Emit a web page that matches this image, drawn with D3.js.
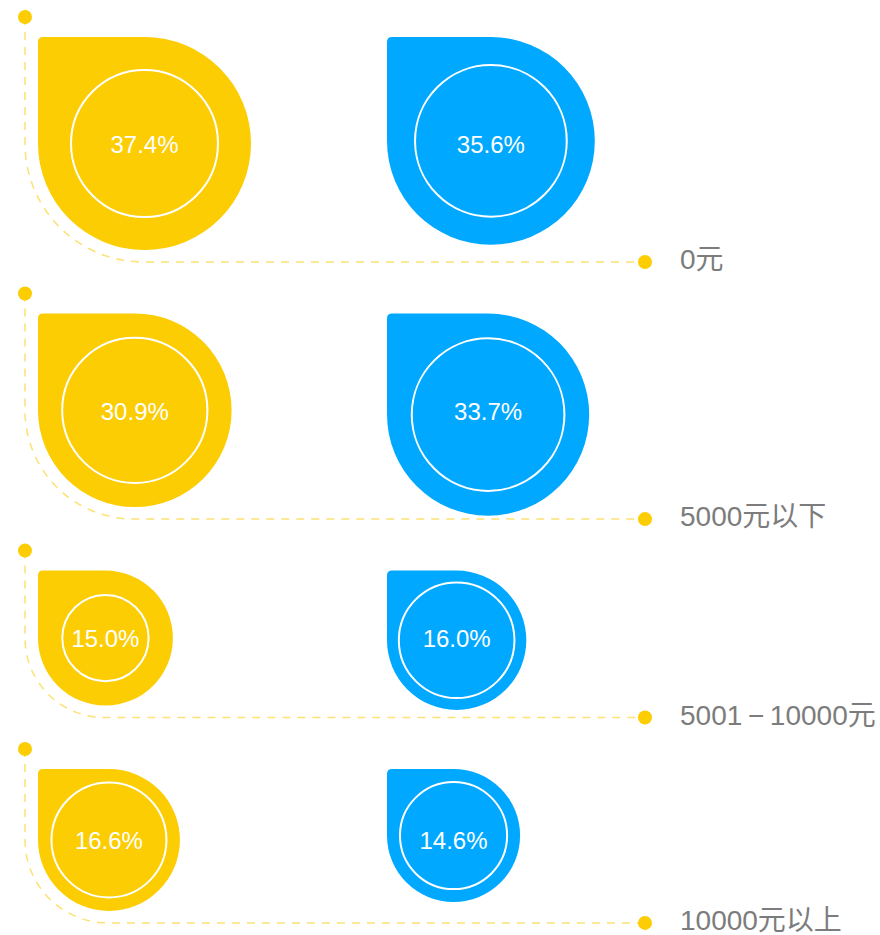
<!DOCTYPE html>
<html>
<head>
<meta charset="utf-8">
<script src="https://cdn.jsdelivr.net/npm/d3@7"></script>
<style>
  body { margin: 0; background: #fff; }
  svg text { font-family: "Liberation Sans", Arial, "Noto Sans CJK SC", sans-serif; }
</style>
</head>
<body>
<script>
const width = 880;
const height = 935;

// data
const categories = ["0元", "5000元以下", "5001\u2009−\u200910000元", "10000元以上"];
const seriesNames = ["A", "B"];
const valuesA = [37.4, 30.9, 15.0, 16.6];
const valuesB = [35.6, 33.7, 16.0, 14.6];

// inner ring size as share of the drop radius (decoration)
const ringA = [0.69, 0.75, 0.64, 0.81];
const ringB = [0.73, 0.755, 0.83, 0.805];

const colors = {A: "#fccd03", B: "#00a9ff"};
const lineColor = "#fde173";

const svg = d3.select("body").append("svg")
  .attr("width", width)
  .attr("height", height);

const size = d3.scaleSqrt()
  .domain([0, d3.max(valuesA.concat(valuesB))])
  .range([0, 213]);

const xPos = d3.scalePoint()
  .domain(seriesNames)
  .range([38, 387]);

// row layout, stacked from the sizes
const off = 12;
let yTop = 37;
const rows = categories.map((c, i) => {
  const sA = size(valuesA[i]), sB = size(valuesB[i]);
  const r = {cat: c, i: i, top: yTop, sA: sA, sB: sB, line: yTop + sA + off};
  yTop = r.line + 51.5;
  return r;
});

function drop(x, y, s) {
  const h = s / 2, c = 5;
  return `M${x},${y + c} Q${x},${y} ${x + c},${y} L${x + h},${y}` +
    ` A${h},${h} 0 0 1 ${x + s},${y + h}` +
    ` A${h},${h} 0 0 1 ${x + h},${y + s}` +
    ` A${h},${h} 0 0 1 ${x},${y + h} Z`;
}

const lineX = xPos("A") - 13;
const endX = 645;

const row = svg.selectAll("g.row")
  .data(rows)
  .enter()
  .append("g")
  .attr("class", "row");

// dashed guide
row.append("path")
  .attr("fill", "none")
  .attr("stroke", lineColor)
  .attr("stroke-width", 1.5)
  .attr("stroke-dasharray", "8,7")
  .attr("d", d => {
    const cy = d.top + d.sA / 2;
    const R = d.line - cy;
    const cx = lineX + R;
    return `M${lineX},${d.top - 20} L${lineX},${cy} A${R},${R} 0 0 0 ${cx},${d.line} L${endX},${d.line}`;
  });

row.append("circle")
  .attr("cx", lineX)
  .attr("cy", d => d.top - 20)
  .attr("r", 7)
  .attr("fill", colors.A);

row.append("circle")
  .attr("cx", endX)
  .attr("cy", d => d.line)
  .attr("r", 7)
  .attr("fill", colors.A);

row.append("text")
  .attr("x", 680)
  .attr("y", d => d.line)
  .attr("dy", "0.25em")
  .attr("fill", "#7c7c7c")
  .attr("font-size", 28)
  .text(d => d.cat);

// drops
seriesNames.forEach(name => {
  const vals = name === "A" ? valuesA : valuesB;
  const ring = name === "A" ? ringA : ringB;
  const g = row.append("g");
  g.append("path")
    .attr("fill", colors[name])
    .attr("d", d => drop(xPos(name), d.top, size(vals[d.i])));
  g.append("circle")
    .attr("cx", d => xPos(name) + size(vals[d.i]) / 2)
    .attr("cy", d => d.top + size(vals[d.i]) / 2)
    .attr("r", d => size(vals[d.i]) / 2 * ring[d.i])
    .attr("fill", "none")
    .attr("stroke", "#fff")
    .attr("stroke-width", 2);
  // labels share one baseline per row
  g.append("text")
    .attr("x", d => xPos(name) + size(vals[d.i]) / 2)
    .attr("y", d => d.top + d.sA / 2 + 1)
    .attr("dy", "0.35em")
    .attr("text-anchor", "middle")
    .attr("fill", "#fff")
    .attr("font-size", 24)
    .text(d => vals[d.i].toFixed(1) + "%");
});
</script>
</body>
</html>
